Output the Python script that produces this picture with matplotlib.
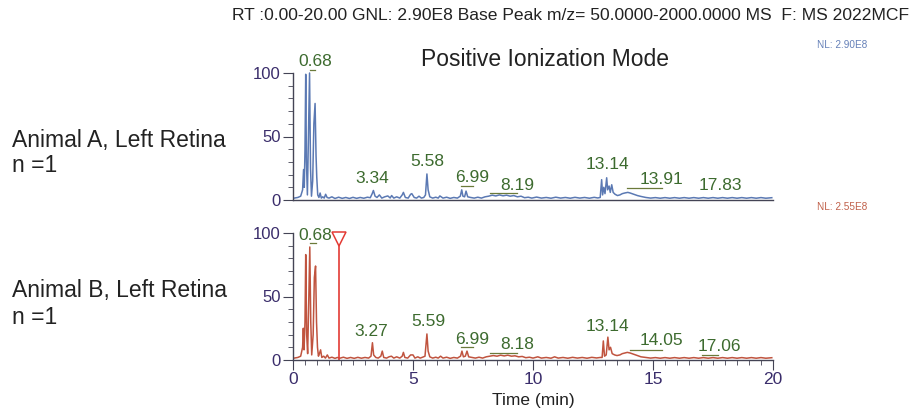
import matplotlib.pyplot as plt
from matplotlib.ticker import MultipleLocator

plt.rcParams['font.family'] = ['Liberation Sans', 'DejaVu Sans']

W, H = 918, 417

# chromatogram traces: (time in min, relative abundance %)
top_trace = [
    (0.05, 1.5), (0.20, 2.0), (0.32, 3.0), (0.40, 8.0), (0.44, 24), (0.47, 10), (0.50, 40), (0.53, 99),
    (0.56, 30), (0.60, 4), (0.64, 45), (0.69, 100), (0.73, 25), (0.77, 3), (0.82, 15), (0.87, 60),
    (0.92, 76), (0.96, 35), (0.99, 18), (1.03, 4), (1.08, 2), (1.13, 5.5), (1.18, 1.5), (1.24, 2.5),
    (1.30, 1.5), (1.36, 4.5), (1.42, 2), (1.50, 1.5), (1.62, 2.5), (1.75, 1.2), (1.90, 2.2), (2.05, 1.3),
    (2.20, 2.0), (2.35, 1.2), (2.50, 2.1), (2.65, 1.3), (2.80, 2.0), (2.95, 1.4), (3.10, 2.2), (3.22, 1.8),
    (3.30, 5), (3.35, 7.5), (3.42, 3), (3.50, 2), (3.60, 4), (3.70, 1.5), (3.82, 2.5), (3.95, 3.2),
    (4.05, 1.6), (4.11, 3.5), (4.20, 1.5), (4.32, 2.5), (4.45, 1.5), (4.55, 4), (4.60, 6), (4.68, 2),
    (4.80, 1.5), (4.90, 4.5), (4.95, 5), (5.05, 2), (5.15, 1.5), (5.25, 3), (5.35, 1.5), (5.45, 2),
    (5.52, 4), (5.58, 20.5), (5.63, 8), (5.70, 2.5), (5.82, 1.5), (5.95, 2.2), (6.05, 1.5), (6.12, 3.2),
    (6.25, 1.5), (6.40, 2.2), (6.55, 1.3), (6.70, 2.0), (6.85, 1.5), (6.97, 3), (7.03, 8), (7.08, 3),
    (7.15, 2.5), (7.21, 7), (7.28, 2.5), (7.40, 2.0), (7.55, 1.5), (7.70, 2.2), (7.85, 1.5), (8.00, 2.5),
    (8.15, 3), (8.30, 3.8), (8.45, 3.2), (8.60, 4), (8.75, 3.3), (8.90, 3.8), (9.05, 3), (9.20, 3.5),
    (9.35, 2.5), (9.50, 3), (9.65, 1.8), (9.80, 2.2), (9.95, 1.5), (10.15, 2.3), (10.35, 1.5), (10.55, 2.0),
    (10.75, 1.4), (10.95, 2.2), (11.15, 1.5), (11.35, 2.0), (11.55, 1.4), (11.75, 2.1), (11.95, 1.5),
    (12.15, 2.0), (12.35, 1.4), (12.55, 2.1), (12.70, 1.6), (12.80, 2), (12.86, 16), (12.90, 4),
    (12.95, 10), (13.00, 5), (13.07, 17.5), (13.11, 8), (13.17, 11), (13.22, 6), (13.28, 12), (13.34, 6),
    (13.42, 4.5), (13.52, 3.5), (13.62, 4), (13.72, 5), (13.82, 5.5), (13.95, 6), (14.05, 5.5),
    (14.20, 4.5), (14.35, 3.5), (14.50, 2.8), (14.70, 2), (14.90, 1.5), (15.10, 1.9), (15.30, 1.4),
    (15.50, 1.9), (15.70, 1.4), (15.90, 1.9), (16.10, 1.4), (16.30, 1.9), (16.50, 1.4), (16.70, 1.9),
    (16.90, 1.4), (17.10, 1.9), (17.30, 1.4), (17.50, 1.9), (17.70, 1.4), (17.90, 1.9), (18.10, 1.4),
    (18.30, 1.9), (18.50, 1.4), (18.70, 1.9), (18.90, 1.4), (19.10, 1.9), (19.30, 1.4), (19.50, 1.9),
    (19.70, 1.4), (19.95, 1.8),
]

bottom_trace = [
    (0.05, 1.5), (0.20, 2), (0.32, 3), (0.40, 10), (0.43, 25), (0.46, 8), (0.50, 30), (0.53, 83),
    (0.57, 20), (0.61, 5), (0.65, 40), (0.70, 89), (0.74, 30), (0.78, 4), (0.84, 20), (0.89, 65),
    (0.94, 74), (0.98, 30), (1.02, 10), (1.06, 3), (1.10, 5), (1.15, 8), (1.20, 2), (1.28, 3),
    (1.35, 1.5), (1.43, 4), (1.50, 1.5), (1.62, 2.2), (1.75, 1.3), (1.85, 2), (1.95, 1.4), (2.10, 2.2),
    (2.25, 1.3), (2.40, 2.0), (2.55, 1.3), (2.70, 2.1), (2.85, 1.4), (3.00, 2.0), (3.15, 1.5), (3.25, 3),
    (3.31, 13.6), (3.36, 4), (3.45, 2), (3.55, 1.5), (3.66, 3), (3.72, 7), (3.78, 2), (3.90, 1.5),
    (4.00, 2.5), (4.10, 3), (4.20, 1.5), (4.32, 2.5), (4.45, 1.5), (4.55, 3), (4.60, 6), (4.66, 2),
    (4.78, 1.5), (4.90, 4), (5.00, 4), (5.08, 1.5), (5.20, 2.5), (5.30, 1.5), (5.40, 2.2), (5.50, 3),
    (5.58, 20.5), (5.63, 7), (5.70, 2.5), (5.82, 1.5), (5.95, 2.2), (6.05, 1.5), (6.15, 3), (6.25, 1.5),
    (6.40, 2.2), (6.55, 1.3), (6.70, 2.0), (6.85, 1.5), (6.98, 3), (7.04, 7), (7.10, 2.5), (7.18, 3),
    (7.25, 7), (7.32, 2.5), (7.45, 2.0), (7.60, 1.5), (7.75, 2.2), (7.90, 1.5), (8.05, 2.5), (8.20, 3),
    (8.35, 3.5), (8.50, 3), (8.65, 3.8), (8.80, 3.2), (8.95, 3.8), (9.10, 3), (9.25, 3.3), (9.40, 2.5),
    (9.55, 2.8), (9.70, 1.8), (9.85, 2.2), (10.0, 1.5), (10.20, 2.5), (10.35, 1.5), (10.55, 2.0),
    (10.75, 1.4), (10.90, 2.5), (11.05, 1.5), (11.25, 2.0), (11.45, 1.4), (11.65, 2.1), (11.85, 1.5),
    (12.05, 2.0), (12.25, 1.4), (12.45, 2.1), (12.65, 1.6), (12.80, 2), (12.88, 2), (12.93, 15),
    (12.98, 3), (13.05, 4), (13.12, 18), (13.17, 8), (13.23, 10), (13.30, 5), (13.40, 4), (13.50, 3.5),
    (13.62, 4), (13.72, 5), (13.82, 5.5), (13.93, 6), (14.05, 5.5), (14.20, 4.5), (14.35, 3.5),
    (14.50, 2.5), (14.70, 2), (14.90, 1.5), (15.10, 1.9), (15.30, 1.4), (15.50, 1.9), (15.70, 1.4),
    (15.90, 1.9), (16.10, 1.4), (16.30, 1.9), (16.50, 1.4), (16.70, 1.9), (16.90, 1.4), (17.10, 1.9),
    (17.30, 1.4), (17.50, 1.9), (17.70, 1.4), (17.90, 1.9), (18.10, 1.4), (18.30, 1.9), (18.50, 1.4),
    (18.70, 1.9), (18.90, 1.4), (19.10, 1.9), (19.30, 1.4), (19.50, 1.9), (19.70, 1.4), (19.95, 1.8),
]

top_labels = ['0.68', '3.34', '5.58', '6.99', '8.19', '13.14', '13.91', '17.83']
bottom_labels = ['0.68', '3.27', '5.59', '6.99', '8.18', '13.14', '14.05', '17.06']
marker_rt = 1.9

# label placement (time, height) and leader lines (t0, t1, height)
top_label_pos = [(0.92, 109), (3.31, 17.3), (5.58, 30), (7.46, 18), (9.35, 11.8),
                 (13.12, 27.6), (15.36, 16.3), (17.8, 11.8)]
bottom_label_pos = [(0.94, 98.4), (3.28, 22.8), (5.62, 30), (7.48, 16.5), (9.35, 12.3),
                    (13.12, 26), (15.36, 15), (17.75, 11)]
top_leaders = [(0.70, 0.90, 102), (7.0, 7.5, 11), (8.2, 9.33, 5.8), (13.9, 15.36, 9.2)]
bottom_leaders = [(0.70, 0.95, 92), (7.0, 7.5, 10), (8.2, 9.35, 5.5), (14.04, 15.36, 8), (17.03, 17.7, 4)]

tick_col = '#3a2d6b'
label_col = '#3d6b2f'
lead_col = '#6b7a3a'

fig = plt.figure(figsize=(W / 100, H / 100), dpi=100)
ax1 = fig.add_axes([293 / W, 1 - 200 / H, 480 / W, 127 / H])
ax2 = fig.add_axes([293 / W, 1 - 360 / H, 480 / W, 127 / H])


def style_axis(ax, show_x):
    ax.set_xlim(0, 20)
    ax.set_ylim(0, 100)
    for s in ['top', 'right']:
        ax.spines[s].set_visible(False)
    for s in ['left', 'bottom']:
        ax.spines[s].set_color('#444455')
        ax.spines[s].set_linewidth(1.0)
    ax.yaxis.set_major_locator(MultipleLocator(50))
    ax.yaxis.set_minor_locator(MultipleLocator(10))
    ax.tick_params(axis='y', which='major', length=7, color='#444455', labelsize=12, labelcolor=tick_col, pad=2)
    ax.tick_params(axis='y', which='minor', length=3.5, color='#444455')
    if show_x:
        ax.xaxis.set_major_locator(MultipleLocator(5))
        ax.xaxis.set_minor_locator(MultipleLocator(0.5))
        ax.tick_params(axis='x', which='major', length=7, color='#444455', labelsize=12.5, labelcolor=tick_col, pad=2)
        ax.tick_params(axis='x', which='minor', length=3.5, color='#444455')
    else:
        ax.tick_params(axis='x', which='both', bottom=False, labelbottom=False)
    ax.patch.set_alpha(0)


def draw_trace(ax, trace, color, labels, label_pos, leaders):
    t, y = zip(*trace)
    ax.plot(t, y, color=color, lw=1.1, clip_on=False)
    for lab, (x, yy) in zip(labels, label_pos):
        ax.text(x, yy, lab, color=label_col, fontsize=12.5, ha='center', va='center', clip_on=False)
    for t0, t1, yy in leaders:
        ax.plot([t0, t1], [yy, yy], color=lead_col, lw=0.9, clip_on=False)


style_axis(ax1, False)
style_axis(ax2, True)
draw_trace(ax1, top_trace, '#5b79b3', top_labels, top_label_pos, top_leaders)
draw_trace(ax2, bottom_trace, '#c0543f', bottom_labels, bottom_label_pos, bottom_leaders)

ax2.plot([marker_rt, marker_rt], [0, 93], color='#e33b35', lw=1.2)
ax2.plot(marker_rt, 95.5, marker='v', ms=10, mfc='white', mec='#e33b35', mew=1.1, clip_on=False)

ax2.set_xlabel('Time (min)', fontsize=12.5, color='#222222', labelpad=4)

fig.text(232 / W, 1 - 16 / H, 'RT :0.00-20.00 GNL: 2.90E8 Base Peak m/z= 50.0000-2000.0000 MS  F: MS 2022MCF',
         fontsize=12.6, ha='left', va='center', color='#222222')
fig.text(545 / W, 1 - 60 / H, 'Positive Ionization Mode', fontsize=16.5, ha='center', va='center', color='#222222')
fig.text(817 / W, 1 - 45 / H, 'NL: 2.90E8', fontsize=7.2, ha='left', va='center', color='#6580b8')
fig.text(817 / W, 1 - 207 / H, 'NL: 2.55E8', fontsize=7.2, ha='left', va='center', color='#c0604a')

fig.text(12 / W, 1 - 140 / H, 'Animal A, Left Retina', fontsize=16.5, ha='left', va='center', color='#222222')
fig.text(12 / W, 1 - 166 / H, 'n =1', fontsize=16.5, ha='left', va='center', color='#222222')
fig.text(12 / W, 1 - 290 / H, 'Animal B, Left Retina', fontsize=16.5, ha='left', va='center', color='#222222')
fig.text(12 / W, 1 - 317 / H, 'n =1', fontsize=16.5, ha='left', va='center', color='#222222')

fig.savefig('out.png', dpi=100)
